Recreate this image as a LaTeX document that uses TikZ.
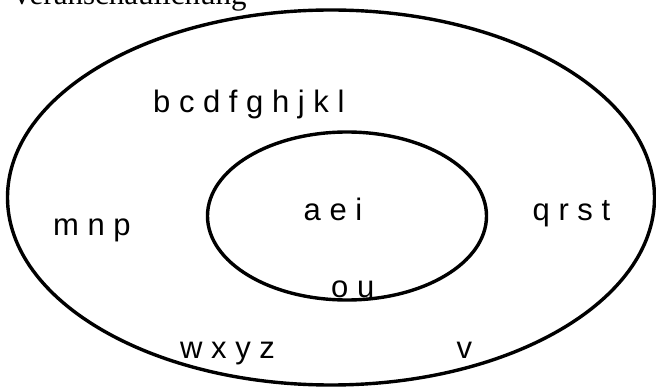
\documentclass[tikz,border=0pt]{standalone}
\usepackage{fontspec}
\setmainfont{Liberation Serif}
\newfontfamily\labelfont{Liberation Sans}
\begin{document}
\begin{tikzpicture}[x=1pt,y=-1pt,
  setline/.style={line width=3.4pt, draw=black},
  letters/.style={anchor=base west, inner sep=0pt, font=\labelfont\fontsize{31}{31}\selectfont},
  heading/.style={anchor=base west, inner sep=0pt, font=\fontsize{31}{31}\selectfont}]
  \useasboundingbox (0,0) rectangle (656,387);
  \clip (0,0) rectangle (656,387);
  \fill[white] (0,0) rectangle (656,387);

  % heading, mostly above the frame
  \node[heading] (title) at (14,5) {veranschaulichung};

  % the two sets
  \draw[setline] (331,197.5) ellipse [x radius=323.5pt, y radius=187.5pt];
  \draw[setline] (347,216) ellipse [x radius=139.5pt, y radius=84pt];

  % letters of the outer set
  \node[letters] (cons) at (153,113) {b c d f g h j k l};
  \node[letters] (mnp) at (53,236) {m n p};
  \node[letters] (qrst) at (532.5,221) {q r s t};
  \node[letters] (wxyz) at (180,358.3) {w x y z};
  \node[letters] (v) at (456.5,358.3) {v};

  % letters of the inner set
  \node[letters] (aei) at (303.5,220.5) {a e i};
  \node[letters] (ou) at (331,297.5) {o u};
\end{tikzpicture}
\end{document}
